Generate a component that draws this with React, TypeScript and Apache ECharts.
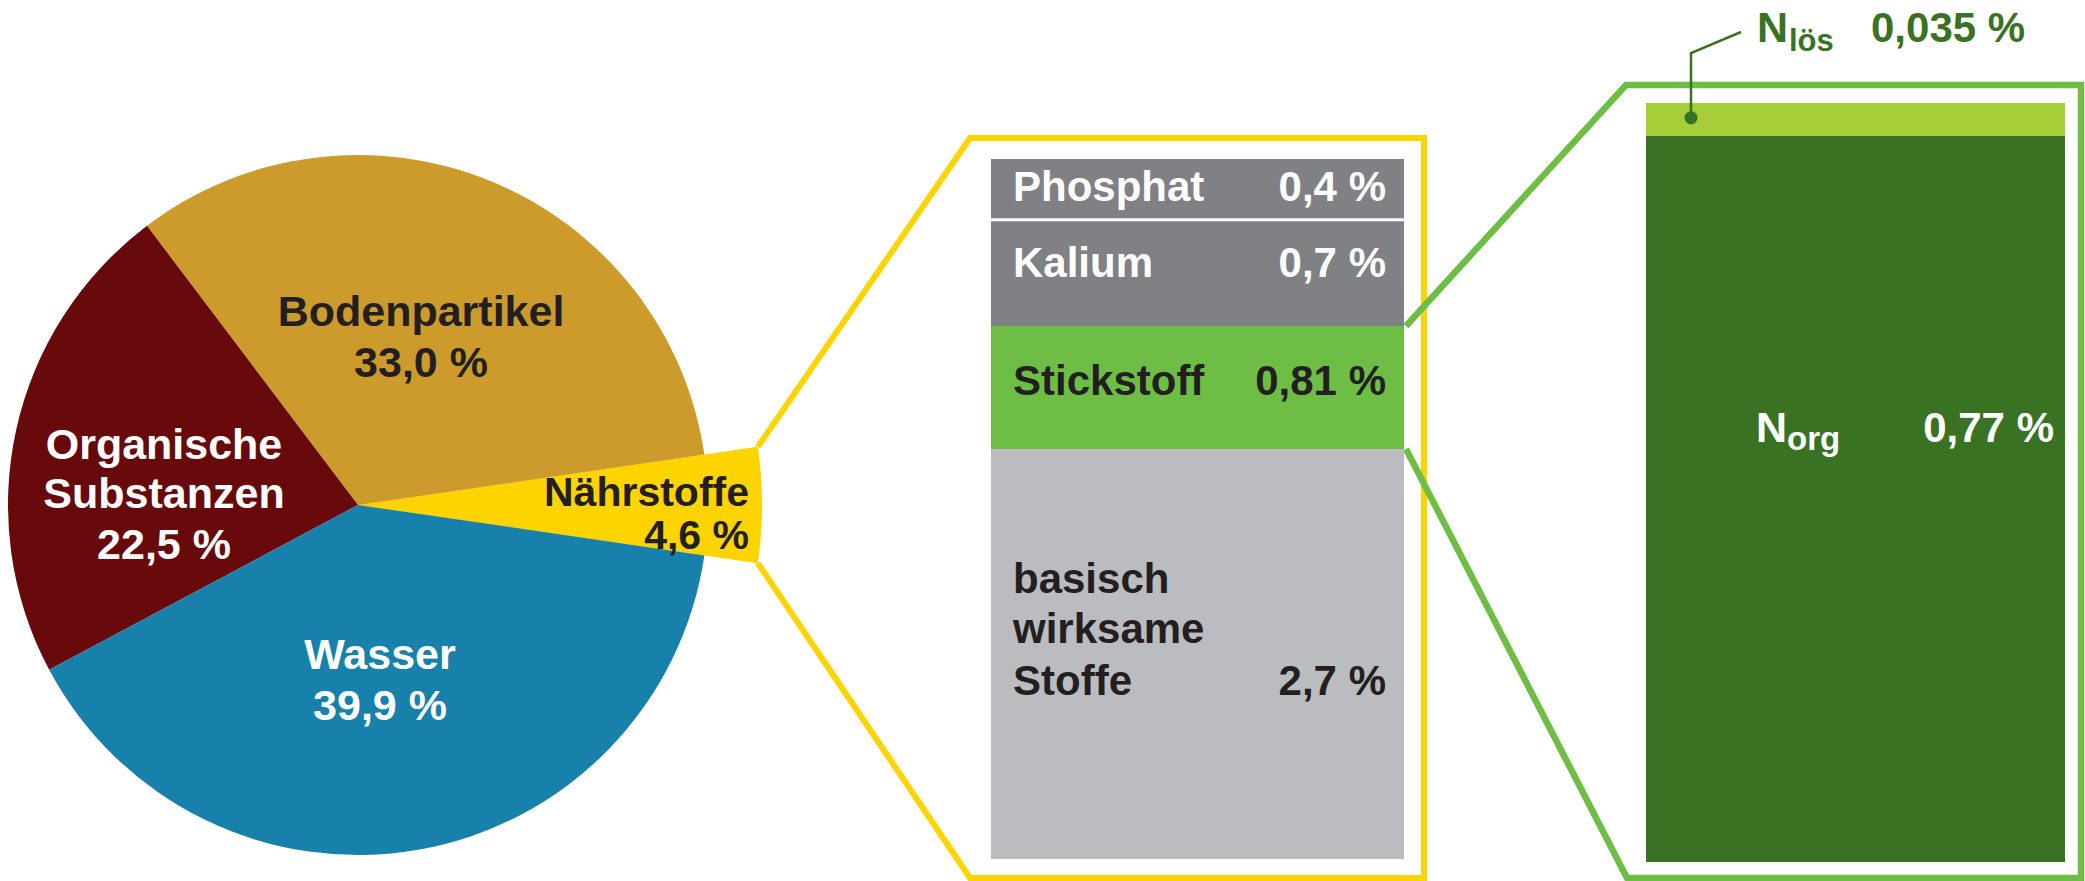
import React, { useEffect, useRef } from 'react';
import * as echarts from 'echarts';

// ---- data ----
const pieNames = ['Nährstoffe', 'Bodenpartikel', 'Organische\nSubstanzen', 'Wasser'];
const pieValues = [4.6, 33.0, 22.5, 39.9];
const pieColors = ['#fdd300', '#cd9a2c', '#680a0c', '#1781ab'];

const midNames = ['Phosphat', 'Kalium', 'Stickstoff', 'basisch\nwirksame\nStoffe'];
const midValues = [0.4, 0.7, 0.81, 2.7];
const midColors = ['#808184', '#808184', '#6ebe45', '#bbbcbf'];

const nNames = ['lös', 'org'];
const nValues = [0.035, 0.77];
const nColors = ['#a6ce39', '#3a7224'];

// ---- layout ----
const W = 2085;
const H = 881;
const FONT = "'Liberation Sans', Arial, Helvetica, sans-serif";
const DARK = '#231f20';
const YELLOW = '#fdd300';
const GREEN = '#6ebe45';
const DGREEN = '#3a7224';

const PIE_CX = 358;
const PIE_CY = 505;
const PIE_R = 350;
const PIE_R_OUT = 404;

const MID = { left: 991, top: 159, width: 413, height: 700 };
const RIGHT = { left: 1646, top: 103, width: 419, height: 759 };

const fmt1 = (v: number) => v.toFixed(1).replace('.', ',') + ' %';
const fmtS = (v: number) => String(v).replace('.', ',') + ' %';

const pieLabelLayout = [
  { x: 749, ys: [492, 535], align: 'right', fill: DARK, size: 41 },
  { x: 421, ys: [311, 362], align: 'center', fill: DARK, size: 43 },
  { x: 164, ys: [444, 493, 544], align: 'center', fill: '#ffffff', size: 43 },
  { x: 380, ys: [654, 705], align: 'center', fill: '#ffffff', size: 43 },
];
const midLabelLayout = [
  { ys: [186], fill: '#ffffff' },
  { ys: [262], fill: '#ffffff' },
  { ys: [380], fill: DARK },
  { ys: [578, 628, 680], fill: DARK },
];

function txt(x: number, y: number, text: string, size: number, fill: string, align = 'left') {
  return {
    type: 'text',
    x,
    y,
    silent: true,
    z: 10,
    style: {
      text,
      fill,
      fontSize: size,
      fontWeight: 'bold',
      fontFamily: FONT,
      align,
      verticalAlign: 'middle',
    },
  };
}

function buildOption() {
  const pieSum = pieValues.reduce((a, b) => a + b, 0);
  const halfDeg = (pieValues[0] / pieSum) * 180;
  const halfRad = (halfDeg * Math.PI) / 180;
  const nUp = [PIE_CX + PIE_R_OUT * Math.cos(halfRad), PIE_CY - PIE_R_OUT * Math.sin(halfRad)];
  const nLo = [PIE_CX + PIE_R_OUT * Math.cos(halfRad), PIE_CY + PIE_R_OUT * Math.sin(halfRad)];

  const midTotal = midValues.reduce((a, b) => a + b, 0);
  const nTotal = nValues.reduce((a, b) => a + b, 0);
  const before = midValues.slice(0, 2).reduce((a, b) => a + b, 0);
  const stTop = MID.top + (before / midTotal) * MID.height;
  const stBot = MID.top + ((before + midValues[2]) / midTotal) * MID.height;
  const sepY = MID.top + (midValues[0] / midTotal) * MID.height;
  const midRight = MID.left + MID.width + 2;

  const yFrame = {
    type: 'polyline',
    silent: true,
    shape: {
      points: [nUp, [970, 138], [1424, 138], [1424, 878], [970, 878], nLo],
    },
    style: { stroke: YELLOW, lineWidth: 6, fill: null, lineJoin: 'miter' },
  };
  const gFrame = {
    type: 'polyline',
    silent: true,
    shape: {
      points: [[midRight, stTop], [1626, 85], [2081, 85], [2081, 878], [1627, 878], [midRight, stBot]],
    },
    style: { stroke: GREEN, lineWidth: 6.5, fill: null, lineJoin: 'miter' },
  };
  const sep = {
    type: 'line',
    silent: true,
    z: 5,
    shape: { x1: MID.left, y1: sepY, x2: MID.left + MID.width, y2: sepY },
    style: { stroke: '#ffffff', lineWidth: 3 },
  };

  const texts: any[] = [];
  pieNames.forEach((n, i) => {
    const lines = [...n.split('\n'), fmt1(pieValues[i])];
    const L = pieLabelLayout[i];
    lines.forEach((t, j) => texts.push(txt(L.x, L.ys[j], t, L.size, L.fill, L.align)));
  });
  midNames.forEach((n, i) => {
    const lines = n.split('\n');
    const L = midLabelLayout[i];
    lines.forEach((t, j) => texts.push(txt(1013, L.ys[j], t, 42, L.fill, 'left')));
    texts.push(txt(1386, L.ys[L.ys.length - 1], fmtS(midValues[i]), 42, L.fill, 'right'));
  });
  // N lös
  texts.push(txt(1757, 27, 'N', 43, DGREEN, 'left'));
  texts.push(txt(1789, 40, nNames[0], 31, DGREEN, 'left'));
  texts.push(txt(1871, 27, fmtS(nValues[0]), 42, DGREEN, 'left'));
  // N org
  texts.push(txt(1756, 427, 'N', 43, '#ffffff', 'left'));
  texts.push(txt(1787, 438, nNames[1], 33, '#ffffff', 'left'));
  texts.push(txt(2054, 427, fmtS(nValues[1]), 42, '#ffffff', 'right'));

  const leaderX = 1691;
  const leaderY = RIGHT.top + (nValues[0] / nTotal) * RIGHT.height * 0.45;
  const leader = {
    type: 'polyline',
    silent: true,
    z: 10,
    shape: { points: [[leaderX, leaderY], [leaderX, 53], [1741, 32]] },
    style: { stroke: DGREEN, lineWidth: 2.5, fill: null },
  };
  const dot = {
    type: 'circle',
    silent: true,
    z: 10,
    shape: { cx: leaderX, cy: leaderY, r: 6.5 },
    style: { fill: DGREEN },
  };

  return {
    animation: false,
    backgroundColor: '#ffffff',
    grid: [
      { left: MID.left, top: MID.top, width: MID.width, height: MID.height, containLabel: false },
      { left: RIGHT.left, top: RIGHT.top, width: RIGHT.width, height: RIGHT.height, containLabel: false },
    ],
    xAxis: [
      { type: 'category', gridIndex: 0, data: ['m'], show: false },
      { type: 'category', gridIndex: 1, data: ['n'], show: false },
    ],
    yAxis: [
      { type: 'value', gridIndex: 0, min: 0, max: midTotal, inverse: true, show: false },
      { type: 'value', gridIndex: 1, min: 0, max: nTotal, inverse: true, show: false },
    ],
    series: [
      {
        type: 'pie',
        center: [PIE_CX, PIE_CY],
        radius: [0, PIE_R_OUT],
        startAngle: -halfDeg,
        clockwise: false,
        silent: true,
        label: { show: false },
        labelLine: { show: false },
        emphasis: { disabled: true },
        data: pieValues.map((v, i) => ({
          value: v,
          name: pieNames[i],
          itemStyle: { color: i === 0 ? pieColors[0] : 'rgba(0,0,0,0)', borderWidth: 0 },
        })),
      },
      {
        type: 'pie',
        center: [PIE_CX, PIE_CY],
        radius: [0, PIE_R],
        startAngle: -halfDeg,
        clockwise: false,
        silent: true,
        label: { show: false },
        labelLine: { show: false },
        emphasis: { disabled: true },
        data: pieValues.map((v, i) => ({
          value: v,
          name: pieNames[i],
          itemStyle: { color: pieColors[i], borderWidth: 0 },
        })),
      },
      ...midValues.map((v, i) => ({
        type: 'bar',
        name: midNames[i],
        xAxisIndex: 0,
        yAxisIndex: 0,
        stack: 'mid',
        barWidth: '100%',
        silent: true,
        data: [v],
        itemStyle: { color: midColors[i] },
      })),
      ...nValues.map((v, i) => ({
        type: 'bar',
        name: 'N' + nNames[i],
        xAxisIndex: 1,
        yAxisIndex: 1,
        stack: 'n',
        barWidth: '100%',
        silent: true,
        data: [v],
        itemStyle: { color: nColors[i] },
      })),
    ],
    graphic: [yFrame, gFrame, sep, leader, dot, ...texts],
  };
}

export default function App() {
  const ref = useRef<HTMLDivElement>(null);
  useEffect(() => {
    if (!ref.current) return;
    const chart = echarts.init(ref.current, undefined, { renderer: 'svg', width: W, height: H });
    chart.setOption(buildOption() as any);
    return () => chart.dispose();
  }, []);
  return (
    <div
      ref={ref}
      style={{ position: 'fixed', left: 0, top: 0, width: W, height: H, background: '#fff' }}
    />
  );
}
